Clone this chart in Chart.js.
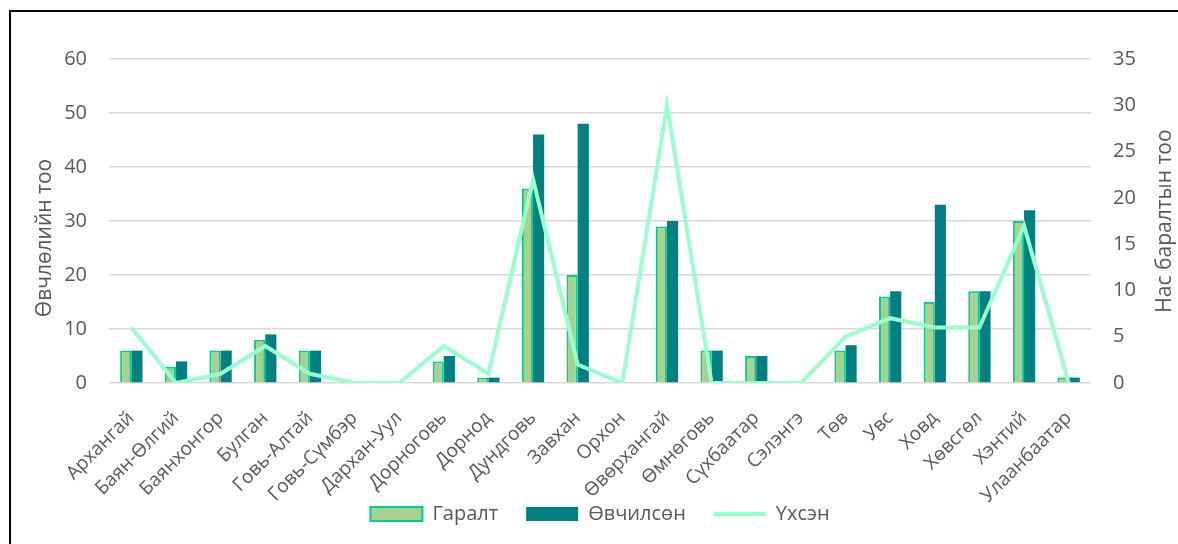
<!DOCTYPE html>
<html>
<head>
<meta charset="utf-8">
<script src="https://cdn.jsdelivr.net/npm/chart.js@4/dist/chart.umd.min.js"></script>
<style>
  html, body { margin: 0; padding: 0; background: #fff; }
  #wrap { width: 1178px; height: 544px; position: relative; }
</style>
</head>
<body>
<div id="wrap"><canvas id="diseaseChart"></canvas></div>
<script>
// Chart data
const aimags = ['Архангай', 'Баян-Өлгий', 'Баянхонгор', 'Булган', 'Говь-Алтай', 'Говь-Сүмбэр',
    'Дархан-Уул', 'Дорноговь', 'Дорнод', 'Дундговь', 'Завхан', 'Орхон', 'Өвөрхангай', 'Өмнөговь',
    'Сүхбаатар', 'Сэлэнгэ', 'Төв', 'Увс', 'Ховд', 'Хөвсгөл', 'Хэнтий', 'Улаанбаатар'];
const outbreaks = [6, 3, 6, 8, 6, 0, 0, 4, 1, 36, 20, 0, 29, 6, 5, 0, 6, 16, 15, 17, 30, 1];
const sick = [6, 4, 6, 9, 6, 0, 0, 5, 1, 46, 48, 0, 30, 6, 5, 0, 7, 17, 33, 17, 32, 1];
const deaths = [6, 0, 1, 4, 1, 0, 0, 4, 1, 22, 2, 0, 30, 0, 0, 0, 5, 7, 6, 6, 17, 0];
const leftTitle = 'Өвчлөлийн тоо';
const rightTitle = 'Нас баралтын тоо';

const FONT = "'Open Sans', 'Noto Sans', sans-serif";
const TEXT = '#595959';

// white background, frame lines and the two rotated axis titles
const decorPlugin = {
    id: 'decor',
    beforeDraw(chart) {
        const c = chart.ctx;
        c.save();
        c.fillStyle = '#fff';
        c.fillRect(0, 0, chart.width, chart.height);
        c.restore();
    },
    afterDraw(chart) {
        const c = chart.ctx;
        c.save();
        c.strokeStyle = '#000';
        c.lineWidth = 2;
        c.beginPath();
        c.moveTo(10, chart.height);
        c.lineTo(10, 11);
        c.lineTo(chart.width, 11);
        c.stroke();

        c.fillStyle = TEXT;
        c.font = '21px ' + FONT;
        c.textAlign = 'center';
        c.textBaseline = 'middle';
        c.translate(45, 238);
        c.rotate(-Math.PI / 2);
        c.fillText(leftTitle, 0, 0);
        c.restore();

        c.save();
        c.fillStyle = TEXT;
        c.font = '21px ' + FONT;
        c.textAlign = 'center';
        c.textBaseline = 'middle';
        c.translate(1165, 221);
        c.rotate(-Math.PI / 2);
        c.fillText(rightTitle, 0, 0);
        c.restore();
    }
};

const ctx = document.getElementById('diseaseChart').getContext('2d');

new Chart(ctx, {
    type: 'bar',
    data: {
        labels: aimags,
        datasets: [
            {
                label: 'Гаралт',
                data: outbreaks,
                backgroundColor: '#A9D18E',
                borderColor: '#00CC99',
                borderWidth: 2,
                pointStyle: 'rect',
                yAxisID: 'y',
                order: 2
            },
            {
                label: 'Өвчилсөн',
                data: sick,
                backgroundColor: '#008080',
                borderColor: '#008080',
                borderWidth: 0,
                pointStyle: 'rect',
                yAxisID: 'y',
                order: 2
            },
            {
                type: 'line',
                label: 'Үхсэн',
                data: deaths,
                borderColor: '#99FFCC',
                backgroundColor: '#99FFCC',
                borderWidth: 4,
                pointRadius: 0,
                pointHoverRadius: 0,
                pointStyle: 'line',
                tension: 0,
                yAxisID: 'y2',
                order: 0
            }
        ]
    },
    options: {
        responsive: true,
        maintainAspectRatio: false,
        animation: false,
        datasets: {
            bar: { categoryPercentage: 0.5, barPercentage: 1.0 }
        },
        layout: {
            padding: { top: 59, left: 0, right: 0, bottom: 10 }
        },
        plugins: {
            legend: {
                display: true,
                position: 'bottom',
                fullSize: false,
                labels: {
                    usePointStyle: true,
                    pointStyleWidth: 52,
                    boxHeight: 14,
                    padding: 28,
                    color: TEXT,
                    font: { family: FONT, size: 20 },
                    sort: (a, b) => a.datasetIndex - b.datasetIndex
                }
            },
            title: { display: false },
            tooltip: { enabled: false }
        },
        scales: {
            x: {
                grid: { display: false, drawTicks: false },
                border: { display: false },
                ticks: {
                    color: TEXT,
                    font: { family: FONT, size: 19 },
                    minRotation: 45,
                    maxRotation: 45,
                    autoSkip: false,
                    padding: 24
                },
                afterFit(scale) { scale.height = 93; },
                // let the rotated labels run past the axis box instead of being cut
                afterUpdate(scale) { scale._computeLabelArea = () => undefined; }
            },
            y: {
                position: 'left',
                min: 0,
                max: 60,
                ticks: {
                    stepSize: 10,
                    color: TEXT,
                    font: { family: FONT, size: 20 },
                    padding: 22
                },
                grid: { color: '#D9D9D9', lineWidth: 1.5, drawTicks: false },
                border: { display: false },
                afterFit(scale) { scale.width = 109; }
            },
            y2: {
                position: 'right',
                min: 0,
                max: 35,
                ticks: {
                    stepSize: 5,
                    color: TEXT,
                    font: { family: FONT, size: 20 },
                    padding: 22
                },
                grid: { display: false, drawTicks: false },
                border: { display: false },
                afterFit(scale) { scale.width = 87; }
            }
        }
    },
    plugins: [decorPlugin]
});
</script>
</body>
</html>
